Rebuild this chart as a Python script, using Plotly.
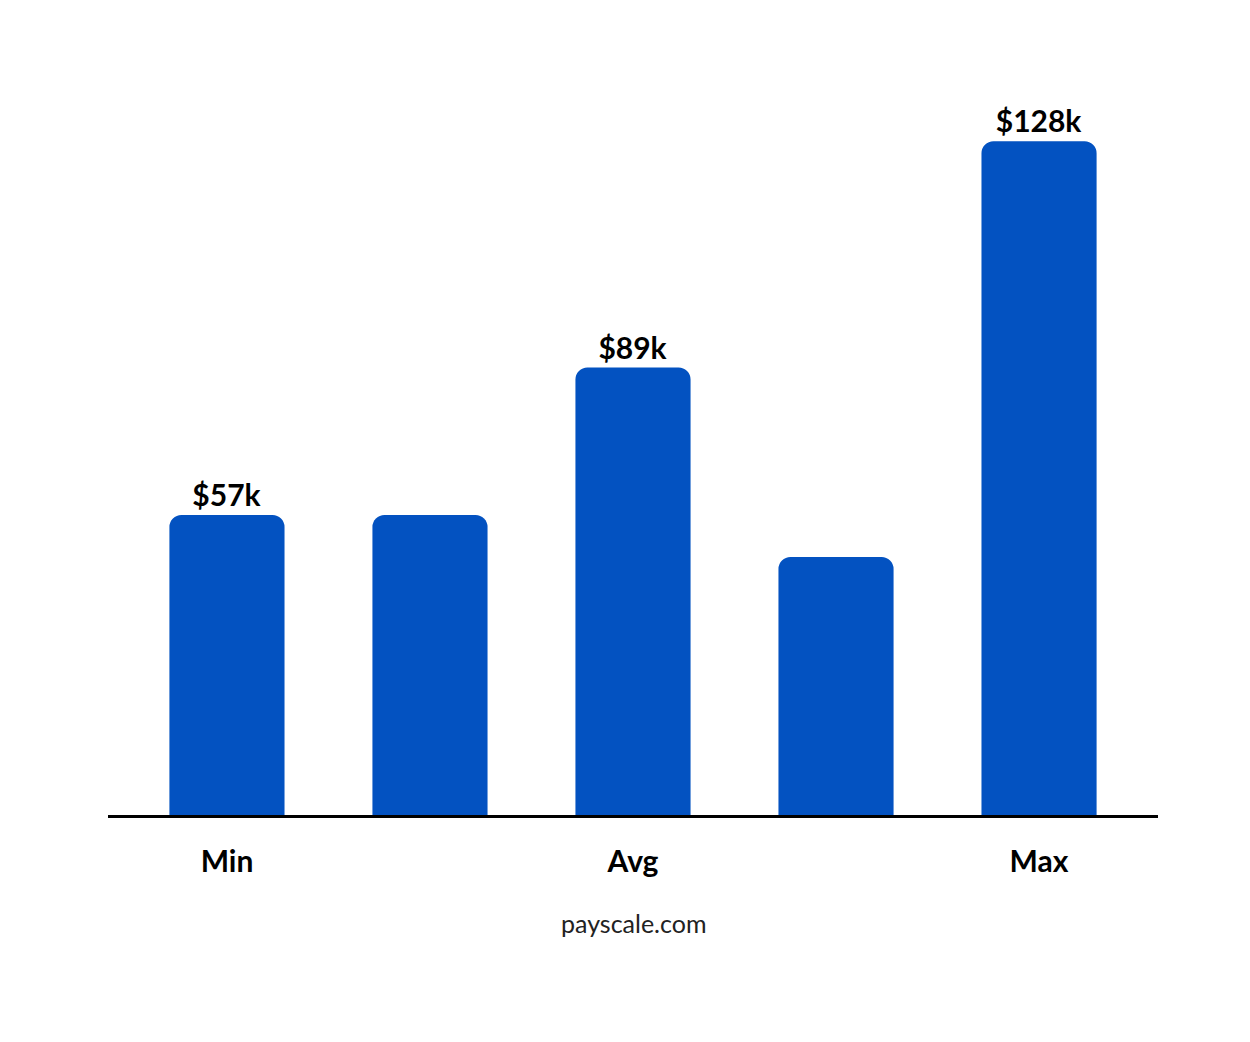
import plotly.graph_objects as go

# bar heights as drawn (in $k), labels as printed
categories = [0, 1, 2, 3, 4]
heights = [57, 57, 85, 49, 128]
bar_labels = ["$57k", "", "$89k", "", "$128k"]
tick_labels = ["Min", "", "Avg", "", "Max"]

fig = go.Figure()

fig.add_trace(
    go.Bar(
        x=categories,
        y=heights,
        width=0.567,
        marker=dict(color="#0352C1", line=dict(width=0)),
        text=bar_labels,
        textposition="outside",
        textfont=dict(family="Lato", size=30, color="black", weight="bold"),
        cliponaxis=False,
        hoverinfo="skip",
    )
)

fig.add_annotation(
    text="payscale.com", xref="paper", yref="paper", x=0.5, y=-0.17,
    showarrow=False, font=dict(family="Lato", size=25, color="#222"),
)

fig.update_layout(
    width=1250, height=1042,
    margin={"t": 70, "b": 235, "l": 100, "r": 100, "pad": 0},
    plot_bgcolor="white", paper_bgcolor="white",
    showlegend=False,
    barcornerradius=12,
    xaxis=dict(
        range=[-0.586, 4.586], tickvals=categories, ticktext=tick_labels,
        showline=True, linecolor="black", linewidth=3, showgrid=False,
        zeroline=False, ticks="", ticklabelstandoff=18,
        tickfont=dict(family="Lato", size=30, color="black", weight="bold"),
    ),
    yaxis=dict(range=[0, 140], visible=False),
)

fig.write_html("out.html")
